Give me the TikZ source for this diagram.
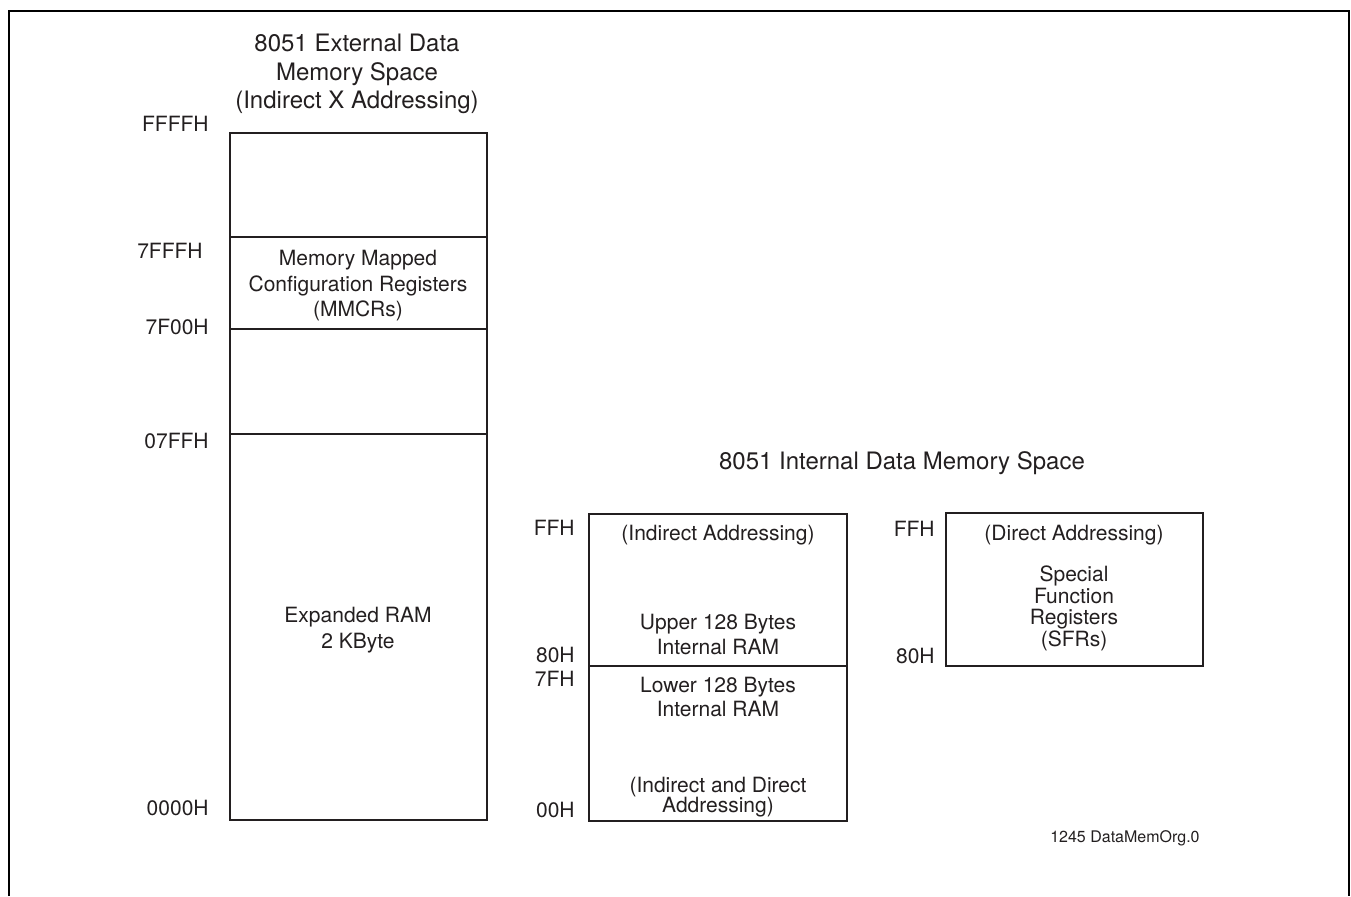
\documentclass[tikz,border=0pt]{standalone}
\usepackage{fontspec}
\setmainfont{TeX Gyre Heros}
\definecolor{ink}{HTML}{231F20}
\begin{document}
\begin{tikzpicture}[x=0.5pt,y=-0.5pt,
  ink, every node/.style={inner sep=0pt, text=ink},
  txt/.style={anchor=base, font=\fontsize{10.5}{12.6}\selectfont},
  addr/.style={anchor=base east, font=\fontsize{10.5}{12.6}\selectfont},
  ttl/.style={anchor=base, font=\fontsize{12}{14.4}\selectfont},
  region/.style={draw=ink, line width=1pt},
  frameline/.style={draw=black, line width=1.4pt}]
\useasboundingbox (0,0) rectangle (1351,896);

% outer frame, open at the bottom
\draw[frameline] (9,896) -- (9,11) -- (1349,11) -- (1349,896);

% ---- external data memory ----
\node[ttl] (ext1) at (357,51) {8051 External Data};
\node[ttl] (ext2) at (357,80) {Memory Space};
\node[ttl] (ext3) at (357,108) {(Indirect X Addressing)};

\draw[region] (230,133) rectangle (487,820);
\draw[region] (230,237) -- (487,237);
\draw[region] (230,329) -- (487,329);
\draw[region] (230,434) -- (487,434);

\node[addr] (aFFFF) at (209,131) {FFFFH};
\node[addr] (a7FFF) at (203,258) {7FFFH};
\node[addr] (a7F00) at (209,334) {7F00H};
\node[addr] (a07FF) at (209,448) {07FFH};
\node[addr] (a0000) at (209,815) {0000H};

\node[txt] (mm1) at (358,265) {Memory Mapped};
\node[txt] (mm2) at (358,291) {Configuration Registers};
\node[txt] (mm3) at (358,316) {(MMCRs)};

\node[txt] (xr1) at (358,622) {Expanded RAM};
\node[txt] (xr2) at (358,648) {2 KByte};

% ---- internal data memory ----
\node[ttl] (int) at (902,469) {8051 Internal Data Memory Space};

\draw[region] (589,514) rectangle (847,821);
\draw[region] (589,666) -- (847,666);

\node[addr] (iFF) at (575,535) {FFH};
\node[addr] (i80) at (575,662) {80H};
\node[addr] (i7F) at (575,686) {7FH};
\node[addr] (i00) at (575,817) {00H};

\node[txt] (up0) at (718,540) {(Indirect Addressing)};
\node[txt] (up1) at (718,629) {Upper 128 Bytes};
\node[txt] (up2) at (718,654) {Internal RAM};
\node[txt] (lo1) at (718,692) {Lower 128 Bytes};
\node[txt] (lo2) at (718,716) {Internal RAM};
\node[txt] (lo3) at (718,792) {(Indirect and Direct};
\node[txt] (lo4) at (718,812) {Addressing)};

% ---- special function registers ----
\draw[region] (946,513) rectangle (1203,666);

\node[addr] (sFF) at (935,536) {FFH};
\node[addr] (s80) at (935,663) {80H};

\node[txt] (sf0) at (1074,540) {(Direct Addressing)};
\node[txt] (sf1) at (1074,581) {Special};
\node[txt] (sf2) at (1074,603) {Function};
\node[txt] (sf3) at (1074,624) {Registers};
\node[txt] (sf4) at (1074,646) {(SFRs)};

\node[anchor=base east, font=\fontsize{8}{9.6}\selectfont] (tag) at (1200,842) {1245 DataMemOrg.0};
\end{tikzpicture}
\end{document}
